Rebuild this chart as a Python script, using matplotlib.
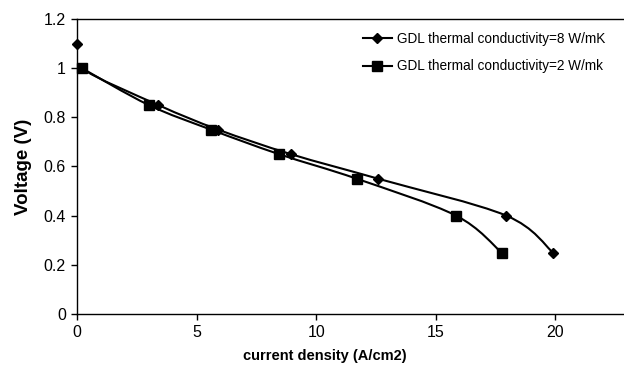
import numpy as np
import matplotlib.pyplot as plt
from matplotlib.path import Path
from matplotlib.patches import PathPatch
from matplotlib.lines import Line2D

plt.rcParams['font.family'] = ['Liberation Sans', 'DejaVu Sans']

# series
k8_x = [0.0, 0.2, 3.4, 5.9, 8.95, 12.6, 17.95, 19.9]
k8_v = [1.1, 1.0, 0.85, 0.75, 0.65, 0.55, 0.40, 0.25]
k2_x = [0.2, 3.0, 5.6, 8.45, 11.7, 15.85, 17.75]
k2_v = [1.0, 0.85, 0.75, 0.65, 0.55, 0.40, 0.25]

labels = ["GDL thermal conductivity=8 W/mK", "GDL thermal conductivity=2 W/mk"]
yticks = [0, 0.2, 0.4, 0.6, 0.8, 1, 1.2]
xticks = [0, 5, 10, 15, 20]


def smooth_path(x, y, t=1/6):
    # Excel style smoothed line: cubic bezier segments through the points
    p = np.column_stack([x, y]).astype(float)
    verts = [p[0]]
    codes = [Path.MOVETO]
    n = len(p)
    for i in range(n - 1):
        p0 = p[i - 1] if i > 0 else p[i]
        p3 = p[i + 2] if i + 2 < n else p[i + 1]
        c1 = p[i] + (p[i + 1] - p0) * t
        c2 = p[i + 1] - (p3 - p[i]) * t
        verts += [c1, c2, p[i + 1]]
        codes += [Path.CURVE4] * 3
    return Path(verts, codes)


fig = plt.figure(figsize=(6.24, 3.73), dpi=100)
ax = fig.add_axes([0.1234, 0.1582, 0.8766, 0.7909])

for xs, vs, mk, ms in [(k8_x, k8_v, 'D', 5.5), (k2_x, k2_v, 's', 7)]:
    ax.add_patch(PathPatch(smooth_path(xs, vs), facecolor='none',
                           edgecolor='black', lw=1.5))
    ax.plot(xs, vs, ls='none', marker=mk, ms=ms, color='black', clip_on=False)

ax.set_xlim(0, 22.87)
ax.set_ylim(0, 1.2)
ax.set_xticks(xticks)
ax.set_yticks(yticks)
ax.set_yticklabels([f"{v:g}" for v in yticks])
ax.tick_params(direction='out', length=4, width=1, labelsize=11.5, pad=4)
ax.spines['right'].set_visible(False)
for s in ['left', 'bottom', 'top']:
    ax.spines[s].set_linewidth(1)

ax.set_xlabel("current density (A/cm2)", fontsize=10.5, fontweight='bold')
ax.xaxis.set_label_coords(0.453, -0.118)
ax.set_ylabel("Voltage (V)", fontsize=13.5, fontweight='bold', labelpad=8)

handles = [Line2D([], [], color='black', lw=1.5, marker='D', ms=5),
           Line2D([], [], color='black', lw=1.5, marker='s', ms=6.5)]
ax.legend(handles, labels, loc='upper left', bbox_to_anchor=(0.512, 0.975),
          frameon=False, fontsize=9.8, handlelength=2.2, handletextpad=0.35,
          labelspacing=1.0, borderaxespad=0)

fig.savefig("out.png", dpi=100)
